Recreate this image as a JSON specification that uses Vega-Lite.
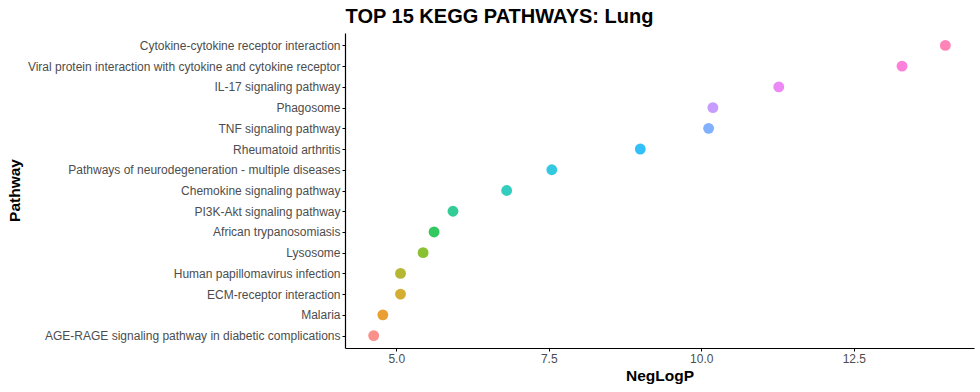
{
  "$schema": "https://vega.github.io/schema/vega-lite/v6.json",
  "autosize": {"type": "none"},
  "width": 629,
  "height": 315,
  "padding": {"left": 345, "top": 33, "right": 6, "bottom": 44},
  "background": "white",
  "title": {
    "text": "TOP 15 KEGG PATHWAYS: Lung",
    "anchor": "middle",
    "frame": "bounds",
    "font": "Liberation Sans",
    "fontSize": 20,
    "fontWeight": "bold",
    "color": "black",
    "offset": 6,
    "dx": 9
  },
  "config": {
    "view": {"stroke": null},
    "font": "Liberation Sans"
  },
  "data": {
    "values": [
      {"Pathway": "AGE-RAGE signaling pathway in diabetic complications", "NegLogP": 4.63},
      {"Pathway": "Malaria", "NegLogP": 4.78},
      {"Pathway": "ECM-receptor interaction", "NegLogP": 5.07},
      {"Pathway": "Human papillomavirus infection", "NegLogP": 5.07},
      {"Pathway": "Lysosome", "NegLogP": 5.44},
      {"Pathway": "African trypanosomiasis", "NegLogP": 5.62},
      {"Pathway": "PI3K-Akt signaling pathway", "NegLogP": 5.93},
      {"Pathway": "Chemokine signaling pathway", "NegLogP": 6.81},
      {"Pathway": "Pathways of neurodegeneration - multiple diseases", "NegLogP": 7.55},
      {"Pathway": "Rheumatoid arthritis", "NegLogP": 9.0},
      {"Pathway": "TNF signaling pathway", "NegLogP": 10.12},
      {"Pathway": "Phagosome", "NegLogP": 10.19},
      {"Pathway": "IL-17 signaling pathway", "NegLogP": 11.27},
      {"Pathway": "Viral protein interaction with cytokine and cytokine receptor", "NegLogP": 13.29},
      {"Pathway": "Cytokine-cytokine receptor interaction", "NegLogP": 14.0}
    ]
  },
  "mark": {"type": "point", "filled": true, "opacity": 0.8, "size": 118},
  "encoding": {
    "x": {
      "field": "NegLogP",
      "type": "quantitative",
      "scale": {"domain": [4.16, 14.47], "nice": false, "zero": false},
      "axis": {
        "values": [5, 7.5, 10, 12.5],
        "format": ".1f",
        "grid": false,
        "domainColor": "black",
        "domainWidth": 1.2,
        "tickColor": "black",
        "tickSize": 3,
        "labelColor": "#4D4D4D",
        "labelFontSize": 12,
        "labelPadding": 2,
        "title": "NegLogP",
        "titleFontSize": 15.5,
        "titleFontWeight": "bold",
        "titleColor": "black",
        "titlePadding": 4
      }
    },
    "y": {
      "field": "Pathway",
      "type": "nominal",
      "sort": [
        "Cytokine-cytokine receptor interaction",
        "Viral protein interaction with cytokine and cytokine receptor",
        "IL-17 signaling pathway",
        "Phagosome",
        "TNF signaling pathway",
        "Rheumatoid arthritis",
        "Pathways of neurodegeneration - multiple diseases",
        "Chemokine signaling pathway",
        "PI3K-Akt signaling pathway",
        "African trypanosomiasis",
        "Lysosome",
        "Human papillomavirus infection",
        "ECM-receptor interaction",
        "Malaria",
        "AGE-RAGE signaling pathway in diabetic complications"
      ],
      "scale": {"type": "point", "padding": 0.6},
      "axis": {
        "grid": false,
        "domainColor": "black",
        "domainWidth": 1.2,
        "tickColor": "black",
        "tickSize": 3,
        "labelColor": "#4D4D4D",
        "labelFontSize": 12,
        "labelPadding": 2,
        "labelLimit": 400,
        "title": "Pathway",
        "titleFontSize": 15.5,
        "titleFontWeight": "bold",
        "titleColor": "black",
        "titleX": -331,
        "titleY": 157,
        "titleAngle": -90,
        "titleAlign": "center",
        "titleBaseline": "middle"
      }
    },
    "color": {
      "field": "Pathway",
      "type": "nominal",
      "legend": null,
      "scale": {
        "domain": [
          "AGE-RAGE signaling pathway in diabetic complications",
          "Malaria",
          "ECM-receptor interaction",
          "Human papillomavirus infection",
          "Lysosome",
          "African trypanosomiasis",
          "PI3K-Akt signaling pathway",
          "Chemokine signaling pathway",
          "Pathways of neurodegeneration - multiple diseases",
          "Rheumatoid arthritis",
          "TNF signaling pathway",
          "Phagosome",
          "IL-17 signaling pathway",
          "Viral protein interaction with cytokine and cytokine receptor",
          "Cytokine-cytokine receptor interaction"
        ],
        "range": ["#F8766D", "#E58700", "#C99800", "#A3A500", "#6BB100", "#00BA38", "#00BF7D", "#00C0AF", "#00BCD8", "#00B0F6", "#619CFF", "#B983FF", "#E76BF3", "#FD61D1", "#FF67A4"]
      }
    }
  }
}
